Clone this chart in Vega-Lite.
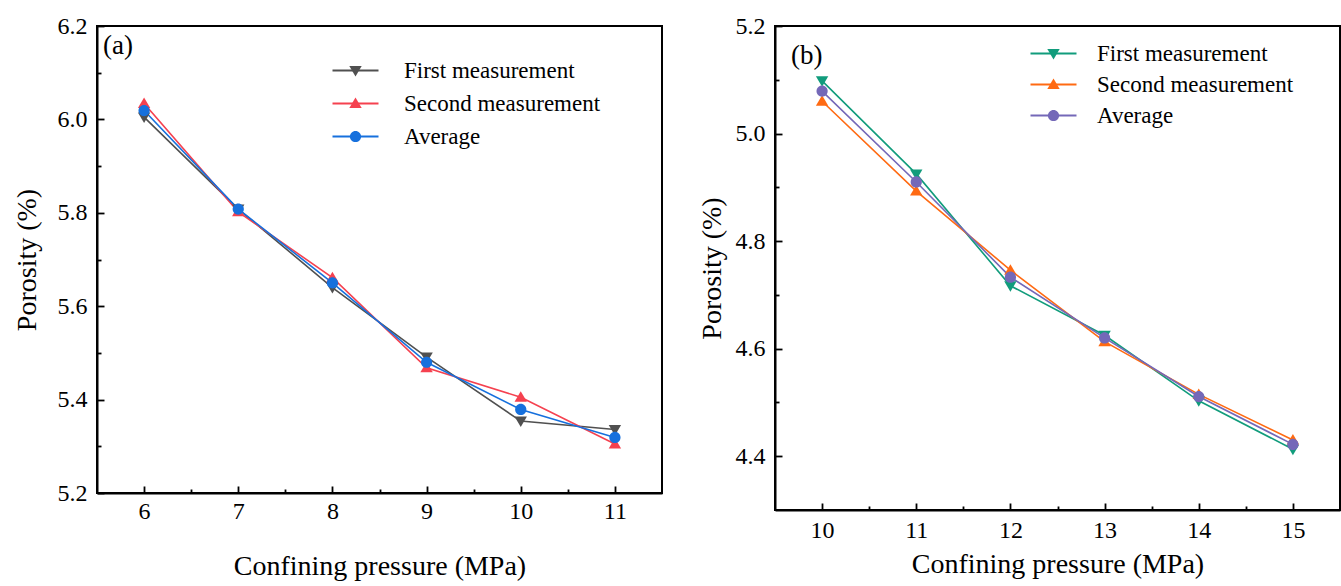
{
  "$schema": "https://vega.github.io/schema/vega-lite/v6.json",
  "padding": {"left": 12, "top": 13, "right": 2, "bottom": 2},
  "background": "white",
  "config": {
    "view": {"stroke": "black", "strokeWidth": 2},
    "font": "Liberation Serif",
    "axis": {"grid": false, "domainColor": "black", "domainWidth": 2, "gridColor": "#000000", "gridWidth": 1.8, "gridOpacity": 1, "gridCap": "butt", "labelFont": "Liberation Serif", "labelFontSize": 24, "labelColor": "black", "titleFont": "Liberation Serif", "titleFontSize": 28, "titleFontWeight": "normal", "titleColor": "black", "labelFlush": false, "labelOverlap": false},
    "legend": {"labelFont": "Liberation Serif", "labelFontSize": 23, "labelColor": "black", "labelLimit": 0}
  },
  "datasets": {
    "a": [
      {"p": 6, "series": "First measurement", "v": 6.005},
      {"p": 7, "series": "First measurement", "v": 5.808},
      {"p": 8, "series": "First measurement", "v": 5.640},
      {"p": 9, "series": "First measurement", "v": 5.491},
      {"p": 10, "series": "First measurement", "v": 5.354},
      {"p": 11, "series": "First measurement", "v": 5.336},
      {"p": 6, "series": "Second measurement", "v": 6.034},
      {"p": 7, "series": "Second measurement", "v": 5.802},
      {"p": 8, "series": "Second measurement", "v": 5.661},
      {"p": 9, "series": "Second measurement", "v": 5.468},
      {"p": 10, "series": "Second measurement", "v": 5.405},
      {"p": 11, "series": "Second measurement", "v": 5.305},
      {"p": 6, "series": "Average", "v": 6.019},
      {"p": 7, "series": "Average", "v": 5.808},
      {"p": 8, "series": "Average", "v": 5.650},
      {"p": 9, "series": "Average", "v": 5.480},
      {"p": 10, "series": "Average", "v": 5.379},
      {"p": 11, "series": "Average", "v": 5.319}
    ],
    "b": [
      {"p": 10, "series": "First measurement", "v": 5.098},
      {"p": 11, "series": "First measurement", "v": 4.925},
      {"p": 12, "series": "First measurement", "v": 4.717},
      {"p": 13, "series": "First measurement", "v": 4.625},
      {"p": 14, "series": "First measurement", "v": 4.503},
      {"p": 15, "series": "First measurement", "v": 4.413},
      {"p": 10, "series": "Second measurement", "v": 5.060},
      {"p": 11, "series": "Second measurement", "v": 4.893},
      {"p": 12, "series": "Second measurement", "v": 4.746},
      {"p": 13, "series": "Second measurement", "v": 4.613},
      {"p": 14, "series": "Second measurement", "v": 4.515},
      {"p": 15, "series": "Second measurement", "v": 4.430},
      {"p": 10, "series": "Average", "v": 5.079},
      {"p": 11, "series": "Average", "v": 4.910},
      {"p": 12, "series": "Average", "v": 4.733},
      {"p": 13, "series": "Average", "v": 4.620},
      {"p": 14, "series": "Average", "v": 4.511},
      {"p": 15, "series": "Average", "v": 4.422}
    ],
    "blank": [{}]
  },
  "spacing": 34,
  "resolve": {"scale": {"color": "independent", "shape": "independent", "stroke": "independent", "x": "independent", "y": "independent"}, "legend": {"color": "independent", "shape": "independent", "stroke": "independent"}},
  "hconcat": [
    {
      "width": 565,
      "height": 467,
      "resolve": {"axis": {"x": "independent", "y": "independent"}},
      "layer": [
        {
          "data": {"name": "a"},
          "mark": {"type": "line", "strokeWidth": 1.6},
          "encoding": {
            "x": {"field": "p", "type": "quantitative", "scale": {"domain": [5.5, 11.5], "nice": false, "zero": false}, "title": "Confining pressure (MPa)",
              "axis": {"orient": "bottom", "values": [6, 7, 8, 9, 10, 11], "ticks": false, "tickSize": 0, "labelPadding": 6, "format": "d", "titlePadding": 29, "grid": true, "gridDash": [0, 460, 7, 1000]}},
            "y": {"field": "v", "type": "quantitative", "scale": {"domain": [5.2, 6.2], "nice": false, "zero": false}, "title": "Porosity (%)",
              "axis": {"orient": "left", "values": [5.2, 5.4, 5.6, 5.8, 6.0, 6.2], "ticks": false, "tickSize": 0, "labelPadding": 10, "format": ".1f", "titlePadding": 16, "grid": true, "gridDash": [7, 2000]}},
            "stroke": {"field": "series", "type": "nominal",
              "scale": {"domain": ["Average", "First measurement", "Second measurement"], "range": ["#1670dd", "#505050", "#f5414f"]},
              "legend": {"orient": "none", "legendX": 247, "legendY": 33, "title": null, "values": ["First measurement", "Second measurement", "Average"], "symbolType": "M-2.3,0H2.3", "symbolSize": 400, "symbolStrokeWidth": 1.8, "labelOffset": 37, "rowPadding": 9, "labelOpacity": 0}
            }
          }
        },
        {
          "data": {"name": "a"},
          "mark": {"type": "point", "filled": true, "size": 400, "opacity": 1, "strokeWidth": 0},
          "encoding": {
            "x": {"field": "p", "type": "quantitative", "axis": {"orient": "bottom", "values": [6.5, 7.5, 8.5, 9.5, 10.5], "ticks": false, "tickSize": 0, "labels": false, "domain": false, "title": null, "grid": true, "gridDash": [0, 463, 4, 1000]}},
            "y": {"field": "v", "type": "quantitative", "axis": {"orient": "left", "values": [5.3, 5.5, 5.7, 5.9, 6.1], "ticks": false, "tickSize": 0, "labels": false, "domain": false, "title": null, "grid": true, "gridDash": [4, 2000]}},
            "color": {"field": "series", "type": "nominal", "scale": {"domain": ["First measurement", "Second measurement", "Average"], "range": ["#505050", "#f5414f", "#1670dd"]},
              "legend": {"orient": "none", "legendX": 247, "legendY": 33, "title": null, "symbolSize": 400, "labelOffset": 37, "rowPadding": 9}},
            "shape": {"field": "series", "type": "nominal", "scale": {"domain": ["First measurement", "Second measurement", "Average"], "range": ["M-0.62,-0.45L0.62,-0.45L0,0.6Z", "M-0.62,0.45L0.62,0.45L0,-0.6Z", "M-0.56,0A0.56,0.56 0 1,0 0.56,0A0.56,0.56 0 1,0 -0.56,0Z"]},
              "legend": {"orient": "none", "legendX": 247, "legendY": 33, "title": null, "symbolSize": 400, "labelOffset": 37, "rowPadding": 9}}
          }
        },
        {
          "data": {"name": "blank"},
          "mark": {"type": "text", "text": "(a)", "fontSize": 27, "align": "left", "baseline": "middle", "font": "Liberation Serif", "color": "black"},
          "encoding": {
            "x": {"datum": 5.565, "type": "quantitative", "axis": null},
            "y": {"datum": 6.157, "type": "quantitative", "axis": null}
          }
        }
      ]
    },
    {
      "width": 565,
      "height": 484,
      "resolve": {"axis": {"x": "independent", "y": "independent"}},
      "layer": [
        {
          "data": {"name": "b"},
          "mark": {"type": "line", "strokeWidth": 1.6},
          "encoding": {
            "x": {"field": "p", "type": "quantitative", "scale": {"domain": [9.5, 15.5], "nice": false, "zero": false}, "title": "Confining pressure (MPa)",
              "axis": {"orient": "bottom", "values": [10, 11, 12, 13, 14, 15], "ticks": false, "tickSize": 0, "labelPadding": 8, "format": "d", "titlePadding": 8, "grid": true, "gridDash": [0, 477, 7, 1000]}},
            "y": {"field": "v", "type": "quantitative", "scale": {"domain": [4.3, 5.2], "nice": false, "zero": false}, "title": "Porosity (%)",
              "axis": {"orient": "left", "values": [4.4, 4.6, 4.8, 5.0, 5.2], "ticks": false, "tickSize": 0, "labelPadding": 10, "format": ".1f", "titlePadding": 9, "grid": true, "gridDash": [7, 2000]}},
            "stroke": {"field": "series", "type": "nominal",
              "scale": {"domain": ["Average", "First measurement", "Second measurement"], "range": ["#7468b8", "#119c7c", "#ff6a12"]},
              "legend": {"orient": "none", "legendX": 267, "legendY": 16, "title": null, "values": ["First measurement", "Second measurement", "Average"], "symbolType": "M-2.3,0H2.3", "symbolSize": 400, "symbolStrokeWidth": 1.8, "labelOffset": 32, "rowPadding": 7, "labelOpacity": 0}
            }
          }
        },
        {
          "data": {"name": "b"},
          "mark": {"type": "point", "filled": true, "size": 400, "opacity": 1, "strokeWidth": 0},
          "encoding": {
            "x": {"field": "p", "type": "quantitative", "axis": {"orient": "bottom", "values": [10.5, 11.5, 12.5, 13.5, 14.5], "ticks": false, "tickSize": 0, "labels": false, "domain": false, "title": null, "grid": true, "gridDash": [0, 480, 4, 1000]}},
            "y": {"field": "v", "type": "quantitative", "axis": {"orient": "left", "values": [4.5, 4.7, 4.9, 5.1], "ticks": false, "tickSize": 0, "labels": false, "domain": false, "title": null, "grid": true, "gridDash": [4, 2000]}},
            "color": {"field": "series", "type": "nominal", "scale": {"domain": ["First measurement", "Second measurement", "Average"], "range": ["#119c7c", "#ff6a12", "#7468b8"]},
              "legend": {"orient": "none", "legendX": 267, "legendY": 16, "title": null, "symbolSize": 400, "labelOffset": 32, "rowPadding": 7}},
            "shape": {"field": "series", "type": "nominal", "scale": {"domain": ["First measurement", "Second measurement", "Average"], "range": ["M-0.62,-0.45L0.62,-0.45L0,0.6Z", "M-0.62,0.45L0.62,0.45L0,-0.6Z", "M-0.56,0A0.56,0.56 0 1,0 0.56,0A0.56,0.56 0 1,0 -0.56,0Z"]},
              "legend": {"orient": "none", "legendX": 267, "legendY": 16, "title": null, "symbolSize": 400, "labelOffset": 32, "rowPadding": 7}}
          }
        },
        {
          "data": {"name": "blank"},
          "mark": {"type": "text", "text": "(b)", "fontSize": 27, "align": "left", "baseline": "middle", "font": "Liberation Serif", "color": "black"},
          "encoding": {
            "x": {"datum": 9.67, "type": "quantitative", "axis": null},
            "y": {"datum": 5.144, "type": "quantitative", "axis": null}
          }
        }
      ]
    }
  ]
}
